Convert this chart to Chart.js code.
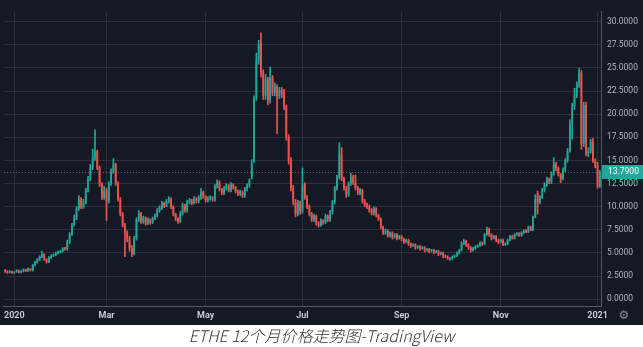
<!DOCTYPE html>
<html lang="zh">
<head>
<meta charset="UTF-8">
<title>ETHE 12个月价格走势图</title>
<script src="https://cdn.jsdelivr.net/npm/chart.js"></script>
<style>
  body { margin: 0; background: #fff; }
  #wrap { width: 643px; height: 325px; background: #151924; }
  #caption { width: 643px; height: 22px; text-align: center; font: italic 300 16px "Noto Sans CJK SC", "Noto Sans", sans-serif; color: #333; line-height: 21px; }
</style>
</head>
<body>
<div id="wrap"><canvas id="ethe" width="643" height="325"></canvas></div>
<div id="caption">ETHE 12个月价格走势图-TradingView</div>
<script>
// daily candles, trading days from 2019-12-26 to 2021-01-05
const startDate = '2019-12-26';
const holidays = ['2020-01-01','2020-01-20','2020-02-17','2020-04-10','2020-05-25','2020-07-03','2020-09-07','2020-11-26','2020-12-25','2021-01-01'];
const tickDates = ['2020-01-02','2020-03-02','2020-05-01','2020-07-01','2020-09-01','2020-11-02','2021-01-04'];
const tickNames = ['2020','Mar','May','Jul','Sep','Nov','2021'];
const yTicks = [0, 2.5, 5, 7.5, 10, 12.5, 15, 17.5, 20, 22.5, 25, 27.5, 30];

const opens = [3.1,3.0,2.9,3.0,2.85,2.95,3.1,2.9,3.0,3.2,3.05,3.3,3.1,3.7,4.0,4.3,4.6,4.9,4.3,4.0,
  4.5,4.7,4.8,5.0,5.1,5.2,5.5,5.4,6.2,7.0,8.0,8.8,9.8,10.8,10.0,10.5,11.8,13.0,14.3,15.3,
  16.0,14.2,12.5,11.0,11.8,10.6,12.5,13.8,14.6,12.5,10.8,9.2,8.0,7.2,6.5,5.5,4.9,6.6,8.6,9.3,
  8.4,8.8,8.2,8.6,8.3,8.7,9.0,9.6,9.9,10.4,10.1,10.6,10.9,10.0,9.2,8.7,8.4,9.3,10.2,9.6,
  10.5,10.7,10.4,10.9,10.6,11.0,11.6,11.1,10.7,10.9,11.0,10.8,12.2,12.7,11.9,11.5,12.0,12.3,11.8,12.4,
  12.1,11.7,11.4,11.6,11.2,11.9,12.3,13.2,15.0,21.8,25.8,27.8,24.5,22.0,23.8,21.5,24.0,22.3,23.0,22.0,
  22.6,22.4,20.8,17.5,15.0,12.0,10.5,9.2,10.4,9.5,12.4,11.0,10.0,9.2,8.6,9.0,8.2,8.0,8.5,8.3,
  9.0,8.6,9.4,10.5,12.0,13.2,15.6,13.0,12.0,11.3,12.5,13.2,12.6,12.0,11.5,11.8,10.6,10.2,10.0,9.6,
  9.3,9.8,9.1,8.7,7.8,7.2,7.4,6.9,7.2,6.7,7.0,6.6,6.8,6.5,6.2,6.4,6.0,5.8,5.9,5.6,
  5.7,5.5,5.6,5.3,5.4,5.2,5.3,5.1,5.2,4.9,5.0,4.7,4.6,4.3,4.4,4.6,4.7,5.0,5.3,6.0,
  6.3,5.9,5.6,5.3,5.5,5.7,5.8,6.1,6.0,7.0,7.6,7.0,6.6,6.8,6.4,6.2,6.4,5.9,6.0,6.4,
  6.8,6.6,7.0,7.1,6.9,7.2,7.4,7.3,7.8,7.5,8.9,11.5,10.5,11.0,11.8,12.4,13.0,12.7,13.6,14.6,
  14.2,13.5,13.0,14.0,15.0,16.0,18.8,20.8,22.0,23.2,24.5,16.8,21.0,15.8,16.0,17.0,15.0,14.5,12.2];

const highs = [3.2,3.1,3.1,3.05,3.0,3.2,3.15,3.1,3.3,3.25,3.4,3.35,3.8,4.1,4.4,4.7,5.2,4.9,4.4,4.6,
  4.8,4.9,5.1,5.2,5.3,5.6,5.6,6.4,7.2,8.2,9.1,10.0,11.2,11.0,10.8,12.0,13.3,14.6,16.2,18.3,
  16.1,14.4,12.6,12.2,12.0,12.7,14.1,15.2,14.7,12.7,11.0,9.4,8.2,7.4,6.8,5.8,6.8,8.8,9.6,9.4,
  9.0,8.9,8.8,8.7,8.9,9.2,9.8,10.1,10.6,10.5,10.8,11.1,11.0,10.1,9.3,8.8,9.5,10.4,10.3,10.7,
  10.9,10.8,11.1,11.0,11.2,12.0,11.7,11.2,11.1,11.2,11.1,12.4,12.9,12.8,12.0,12.2,12.5,12.4,12.6,12.5,
  12.2,11.8,11.8,11.7,12.1,12.5,13.0,15.1,22.0,26.6,28.0,28.8,24.8,24.3,24.0,25.1,24.2,23.4,23.2,22.9,
  22.9,22.7,21.0,17.8,15.3,12.3,10.8,10.7,10.6,14.2,12.6,11.2,10.2,9.4,9.2,9.1,8.4,8.7,8.6,9.2,
  9.1,9.6,10.7,12.2,13.4,16.9,16.4,13.2,12.2,12.7,13.6,13.4,13.4,12.2,12.0,11.9,10.8,10.4,10.2,9.8,
  10.0,9.9,9.2,8.8,7.9,7.6,7.5,7.3,7.3,7.1,7.1,6.9,6.9,6.6,6.5,6.5,6.1,6.0,6.0,5.8,
  5.8,5.7,5.7,5.5,5.5,5.4,5.4,5.3,5.3,5.1,5.1,4.8,4.7,4.5,4.7,4.8,5.1,5.4,6.2,6.5,
  6.4,6.0,5.7,5.6,5.8,5.9,6.2,6.2,7.1,7.8,7.7,7.1,6.9,6.9,6.5,6.5,6.5,6.1,6.5,6.9,
  6.9,7.1,7.2,7.2,7.3,7.5,7.5,7.9,7.9,9.0,11.3,11.7,11.2,12.0,12.6,13.2,13.1,13.8,15.3,14.8,
  14.3,13.6,14.2,15.2,16.3,19.4,21.2,22.8,23.5,25.0,24.7,21.3,21.3,16.4,17.3,17.4,15.2,14.8,13.9];

const lows = [2.9,2.8,2.85,2.8,2.8,2.9,2.85,2.85,2.95,3.0,3.0,3.05,3.05,3.6,3.9,4.2,4.5,4.2,3.9,3.95,
  4.4,4.6,4.7,4.9,5.0,5.1,5.3,5.3,6.0,6.9,7.9,8.6,9.6,9.8,9.8,10.3,11.6,12.8,14.0,15.0,
  14.0,12.2,10.8,10.8,8.5,10.4,12.3,13.6,12.3,10.6,9.0,7.8,4.6,6.2,5.2,4.6,4.8,6.4,8.4,8.2,
  8.2,8.0,8.1,8.1,8.2,8.6,8.9,9.4,9.7,9.9,10.0,10.4,9.8,9.0,8.5,8.2,8.3,9.1,9.4,9.4,
  10.3,10.2,10.3,10.4,10.4,10.8,10.9,10.5,10.5,10.7,10.6,10.6,12.0,11.7,11.3,11.3,11.8,11.6,11.6,11.9,
  11.5,11.2,11.2,11.0,11.0,11.7,12.1,13.0,14.8,21.5,25.4,24.0,21.6,21.6,21.0,21.2,22.0,22.0,17.9,21.7,
  21.8,20.5,17.2,14.6,11.7,10.2,8.9,9.0,9.2,9.3,10.8,9.8,9.0,8.4,8.4,8.0,7.8,7.9,8.1,8.2,
  8.4,8.4,9.2,10.3,11.8,13.0,12.8,11.8,11.0,11.1,12.3,12.4,11.8,11.3,11.3,10.4,10.0,9.8,9.4,9.1,
  9.1,8.9,8.5,7.6,7.0,7.0,6.7,6.7,6.5,6.6,6.4,6.5,6.3,6.0,6.1,5.8,5.6,5.7,5.4,5.5,
  5.3,5.4,5.1,5.2,5.0,5.1,4.9,5.0,4.7,4.8,4.5,4.5,4.3,4.2,4.3,4.5,4.6,4.9,5.2,5.9,
  5.7,5.4,5.1,5.2,5.4,5.6,5.7,5.8,5.9,6.9,6.8,6.4,6.5,6.2,6.0,6.1,5.8,5.8,5.9,6.3,
  6.5,6.5,6.9,6.8,6.8,7.1,7.2,7.2,7.4,7.4,8.8,9.2,10.3,10.9,11.6,12.2,12.5,12.5,13.4,13.9,
  13.3,12.6,12.9,13.8,14.8,15.9,17.3,20.5,21.8,22.9,16.2,16.5,15.5,15.4,15.8,14.8,14.2,12.0,12.1];

const closes = [3.0,2.9,3.0,2.85,2.95,3.1,2.9,3.0,3.2,3.05,3.3,3.1,3.7,4.0,4.3,4.6,4.9,4.3,4.0,4.5,
  4.7,4.8,5.0,5.1,5.2,5.5,5.4,6.2,7.0,8.0,8.8,9.8,10.8,10.0,10.5,11.8,13.0,14.3,15.3,16.0,
  14.2,12.5,11.0,11.8,10.6,12.5,13.8,14.6,12.5,10.8,9.2,8.0,7.2,6.5,5.5,4.9,6.6,8.6,9.3,8.4,
  8.8,8.2,8.6,8.3,8.7,9.0,9.6,9.9,10.4,10.1,10.6,10.9,10.0,9.2,8.7,8.4,9.3,10.2,9.6,10.5,
  10.7,10.4,10.9,10.6,11.0,11.6,11.1,10.7,10.9,11.0,10.8,12.2,12.7,11.9,11.5,12.0,12.3,11.8,12.4,12.1,
  11.7,11.4,11.6,11.2,11.9,12.3,12.8,14.6,21.8,25.8,27.5,24.5,22.0,23.8,21.5,24.0,22.3,23.0,22.0,22.6,
  22.2,20.8,17.5,15.0,12.0,10.5,9.2,10.4,9.5,12.4,11.0,10.0,9.2,8.6,9.0,8.2,8.0,8.5,8.3,9.0,
  8.6,9.4,10.5,12.0,13.2,15.8,13.0,12.0,11.3,12.5,13.2,12.6,12.0,11.5,11.8,10.6,10.2,10.0,9.6,9.3,
  9.8,9.1,8.7,7.8,7.2,7.4,6.9,7.2,6.7,7.0,6.6,6.8,6.5,6.2,6.4,6.0,5.8,5.9,5.6,5.7,
  5.5,5.6,5.3,5.4,5.2,5.3,5.1,5.2,4.9,5.0,4.7,4.6,4.4,4.4,4.6,4.7,5.0,5.3,6.0,6.3,
  5.9,5.6,5.3,5.5,5.7,5.8,6.1,6.0,7.0,7.6,7.0,6.6,6.8,6.4,6.2,6.4,5.9,6.0,6.4,6.8,
  6.6,7.0,7.1,6.9,7.2,7.4,7.3,7.8,7.5,8.9,10.8,10.5,11.0,11.8,12.4,13.0,12.7,13.6,14.6,14.2,
  13.5,13.0,14.0,15.0,16.0,18.8,20.8,22.0,23.2,24.5,16.8,21.0,15.8,16.0,17.0,15.0,14.5,12.2,13.79];

const UP = '#26a69a', DOWN = '#ef5350';

// trading-day labels
const labels = [];
{
  let d = new Date(startDate + 'T00:00:00Z');
  while (labels.length < closes.length) {
    const s = d.toISOString().slice(0, 10);
    const wd = d.getUTCDay();
    if (wd !== 0 && wd !== 6 && !holidays.includes(s)) labels.push(s);
    d.setUTCDate(d.getUTCDate() + 1);
  }
}
const colors = closes.map((c, i) => c >= opens[i] ? UP : DOWN);
const lastClose = closes[closes.length - 1];

const overlay = {
  id: 'overlay',
  beforeDatasetsDraw(chart) {
    const { ctx, chartArea } = chart;
    const y = Math.round(chart.scales.y.getPixelForValue(lastClose)) + 0.5;
    ctx.save();
    ctx.strokeStyle = '#6a6e7a';
    ctx.setLineDash([1, 2]);
    ctx.beginPath();
    ctx.moveTo(chartArea.left, y);
    ctx.lineTo(chartArea.right, y);
    ctx.stroke();
    ctx.restore();
  },
  afterDraw(chart) {
    const { ctx, chartArea } = chart;
    const y = chart.scales.y.getPixelForValue(lastClose);
    ctx.save();
    ctx.fillStyle = UP;
    ctx.fillRect(chartArea.right + 1, Math.round(y) - 7, chart.width - chartArea.right - 1, 14);
    ctx.fillStyle = '#ffffff';
    ctx.font = '8.5px Roboto, sans-serif';
    ctx.textBaseline = 'middle';
    ctx.fillText(lastClose.toFixed(4), chartArea.right + 7, Math.round(y));
    ctx.fillStyle = '#8a8e99';
    ctx.font = '12px "DejaVu Sans"';
    ctx.textAlign = 'center';
    ctx.fillText('\u2699', 624, chartArea.bottom + 10);
    ctx.restore();
  }
};

new Chart(document.getElementById('ethe'), {
  type: 'bar',
  data: {
    labels: labels,
    datasets: [
      {
        data: opens.map((o, i) => [o, closes[i]]),
        backgroundColor: colors,
        grouped: false,
        categoryPercentage: 1,
        barPercentage: 0.75,
        minBarLength: 1
      },
      {
        data: lows.map((l, i) => [l, highs[i]]),
        backgroundColor: colors,
        grouped: false,
        barThickness: 1
      }
    ]
  },
  options: {
    responsive: false,
    animation: false,
    devicePixelRatio: 1,
    layout: { padding: 0 },
    plugins: { legend: { display: false }, tooltip: { enabled: false } },
    scales: {
      x: {
        type: 'category',
        offset: true,
        grid: { offset: false, color: '#2c303c', drawTicks: false },
        border: { color: '#535763' },
        ticks: {
          autoSkip: false,
          maxRotation: 0,
          padding: 4,
          color: '#d1d4dc',
          font: { family: 'Roboto', size: 9, weight: '600' },
          callback(v, i) {
            const k = tickDates.indexOf(labels[i]);
            return k >= 0 ? tickNames[k] : null;
          }
        },
        afterFit(s) { s.height = 19; }
      },
      y: {
        position: 'right',
        min: -0.729,
        max: 31.146,
        grid: { color: '#2c303c', drawTicks: false },
        border: { color: '#535763' },
        afterBuildTicks(s) { s.ticks = yTicks.map(v => ({ value: v })); },
        ticks: {
          padding: 6,
          color: '#b2b5be',
          font: { family: 'Roboto', size: 8.5 },
          callback: v => Number(v).toFixed(4)
        },
        afterFit(s) { s.width = 42; }
      }
    }
  },
  plugins: [overlay]
});
</script>
</body>
</html>
